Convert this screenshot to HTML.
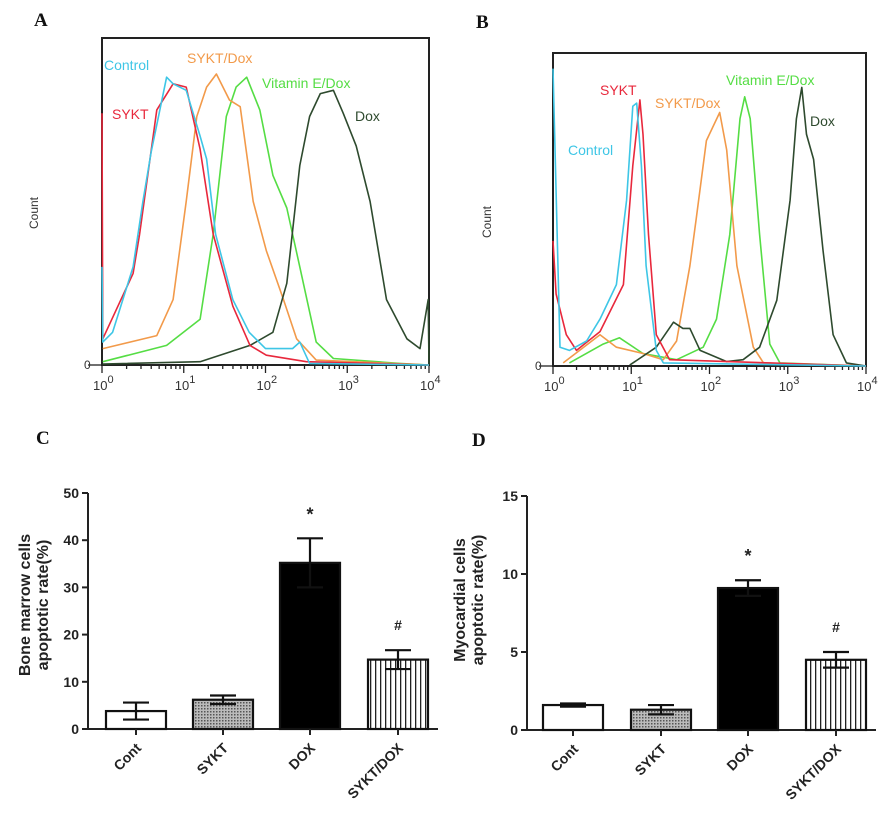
<!DOCTYPE html>
<html><head><meta charset="utf-8"><style>
body{margin:0;background:#fff;}
svg text{font-family:"Liberation Sans",sans-serif;}
</style></head><body>
<svg id="fig" width="886" height="820" viewBox="0 0 886 820" xmlns="http://www.w3.org/2000/svg">
<defs>
<pattern id="dots" width="3" height="3" patternUnits="userSpaceOnUse"><rect width="3" height="3" fill="#bbb"/><rect width="1.5" height="1.5" fill="#555"/></pattern>
<pattern id="vstripes" width="5" height="5" patternUnits="userSpaceOnUse"><rect width="5" height="5" fill="#fff"/><rect width="1.3" height="5" fill="#222"/></pattern>
</defs>
<g id="root"></g>
</svg>
<script>
// ---- Panel A histogram data (log10 intensity, count %) ----
const aControlX=[0.0,0.01,0.13,0.38,0.5,0.6,0.79,0.87,1.03,1.2,1.28,1.39,1.6,1.8,2.0,2.33,2.42,2.54,4.0];
const aControlY=[30,7,10,30,50,65,88,86,84,70,63,40,20,10,5,5,7,0.5,0];
const aSyktX=[0.0,0.01,0.38,0.46,0.67,0.87,1.03,1.2,1.36,1.6,1.81,2.01,2.5,4];
const aSyktY=[77,8,28,40,78,86,85,66,40,18,6,3,1,0];
const aSyktDoxX=[0.01,0.67,0.87,1.03,1.16,1.28,1.4,1.56,1.69,1.85,2.01,2.22,2.38,2.62,4];
const aSyktDoxY=[5,9,20,50,76,85,89,81,79,50,35,20,8,1.5,0];
const aVitEX=[0.01,0.79,1.2,1.36,1.52,1.64,1.77,1.93,2.09,2.26,2.42,2.62,2.83,3.64,4];
const aVitEY=[1,6,14,40,76,85,88,78,58,48,30,7,2,0.5,0];
const aDoxX=[0.01,1.2,1.81,2.09,2.26,2.42,2.54,2.67,2.83,2.95,3.11,3.28,3.48,3.73,3.89,3.99,4.0];
const aDoxY=[0.3,1,6,10,25,61,76,83,84,77,67,50,20,8,5,20,0];
// ---- Panel B histogram data ----
const bControlX=[0.0,0.09,0.21,0.43,0.6,0.81,0.94,1.02,1.07,1.13,1.19,1.32,1.41,4];
const bControlY=[95,6,5,8,15,26,53,83,84,64,32,5,1,0];
const bSyktX=[0.0,0.04,0.17,0.3,0.6,0.9,1.02,1.11,1.15,1.22,1.32,1.49,4];
const bSyktY=[40,23,10,5,11,26,64,85,74,42,10,2,0];
const bSyktDoxX=[0.13,0.34,0.6,0.81,1.15,1.41,1.58,1.75,1.83,1.96,2.13,2.22,2.35,2.56,2.69,4];
const bSyktDoxY=[1,5,10,6,4,2,8,32,47,72,81,69,32,6,1,0];
const bVitEX=[0.21,0.64,0.85,1.15,1.58,1.92,2.09,2.26,2.39,2.45,2.52,2.64,2.77,2.9,4];
const bVitEY=[1,7,9,4,2,6,15,42,79,86,79,42,7,1,0];
const bDoxX=[0.98,1.32,1.54,1.66,1.75,1.88,2.22,2.43,2.64,2.86,3.03,3.11,3.18,3.24,3.33,3.45,3.58,3.75,4];
const bDoxY=[0.3,6,14,12,12,5,1.4,2,6,21,53,79,89,74,66,37,10,1,0];
// ---- Bar chart data ----
const barCats=["Cont","SYKT","DOX","SYKT/DOX"];
const cValues=[3.8,6.2,35.2,14.7];
const cErrors=[1.8,0.9,5.2,2.0];
const cTicks=[0,10,20,30,40,50];
const dValues=[1.6,1.3,9.1,4.5];
const dErrors=[0.1,0.3,0.5,0.5];
const dTicks=[0,5,10,15];
const sigMarks=["","","*","#"];

const NS="http://www.w3.org/2000/svg";
const root=document.getElementById('root');
function el(tag,attrs,parent,text){const e=document.createElementNS(NS,tag);for(const k in attrs)e.setAttribute(k,attrs[k]);if(text!==undefined)e.textContent=text;(parent||root).appendChild(e);return e;}

function histPanel(p){
  const g=el('g',{});
  
  
  const sx=v=>p.x0+(p.x1-p.x0)*v/4;
  const sy=v=>p.yb-(p.yb-p.yt)*v/100;
  const box=el('rect',{x:p.x0,y:p.yt,width:p.x1-p.x0,height:p.yb-p.yt,fill:'none',stroke:'#222','stroke-width':2},g);
  
  
  // ticks
  for(let d=0;d<4;d++){for(let m=1;m<10;m++){const x=sx(d+Math.log10(m));const t=el('line',{x1:x,x2:x,y1:p.yb,y2:p.yb+(m==1?8:4),stroke:'#222','stroke-width':1.3},g);}}
  el('line',{x1:sx(4),x2:sx(4),y1:p.yb,y2:p.yb+8,stroke:'#222','stroke-width':1.3},g);
  el('line',{x1:p.x0-14,x2:p.x0,y1:p.yb,y2:p.yb,stroke:'#222','stroke-width':1.3},g);
  for(let d=0;d<=4;d++){
    const t=el('text',{x:sx(d)-9,y:p.yb+25,'font-size':13,fill:'#333'},g,'10');
    
    
    el('tspan',{dy:-7,'font-size':11},t,String(d));
  }
  const z=el('text',{x:p.x0-18,y:p.yb+4,'font-size':12,fill:'#333'},g,'0');
  
  
  const cl=el('text',{x:0,y:0,'font-size':12,fill:'#333','text-anchor':'middle',transform:`translate(${p.countX},${p.countY}) rotate(-90)`},g,'Count');
  
  
  p.series.forEach(s=>{
    const pts=s.x.map((v,i)=>sx(v).toFixed(1)+','+sy(s.y[i]).toFixed(1)).join(' ');
    const pl=el('polyline',{points:pts,fill:'none',stroke:s.c,'stroke-width':1.6,'stroke-linejoin':'round'},g);
    
    
    const lb=el('text',{x:s.lx,y:s.ly,'font-size':14,fill:s.c},g,s.t);
    
    
  });
  const L=el('text',{x:p.lx,y:p.ly,'font-size':19,'font-weight':'bold','font-family':'Liberation Serif,serif',fill:'#111',style:'font-family:"Liberation Serif",serif'},g,p.letter);
  
  
}
const cyan='#3ec6e6',red='#e8283c',orange='#f29a4a',green='#55dd44',dark='#2e4a2e';
histPanel({name:'panel-a-histogram',letter:'A',lx:34,ly:26,x0:102,x1:429,yt:38,yb:365,countX:38,countY:213,series:[
 {n:'vitamin-e-dox',x:aVitEX,y:aVitEY,c:green,t:'Vitamin E/Dox',lx:262,ly:88},
 {n:'sykt-dox',x:aSyktDoxX,y:aSyktDoxY,c:orange,t:'SYKT/Dox',lx:187,ly:63},
 {n:'dox',x:aDoxX,y:aDoxY,c:dark,t:'Dox',lx:355,ly:121},
 {n:'sykt',x:aSyktX,y:aSyktY,c:red,t:'SYKT',lx:112,ly:119},
 {n:'control',x:aControlX,y:aControlY,c:cyan,t:'Control',lx:104,ly:70}]});
histPanel({name:'panel-b-histogram',letter:'B',lx:476,ly:28,x0:553,x1:866,yt:53,yb:366,countX:491,countY:222,series:[
 {n:'vitamin-e-dox',x:bVitEX,y:bVitEY,c:green,t:'Vitamin E/Dox',lx:726,ly:85},
 {n:'sykt-dox',x:bSyktDoxX,y:bSyktDoxY,c:orange,t:'SYKT/Dox',lx:655,ly:108},
 {n:'dox',x:bDoxX,y:bDoxY,c:dark,t:'Dox',lx:810,ly:126},
 {n:'sykt',x:bSyktX,y:bSyktY,c:red,t:'SYKT',lx:600,ly:95},
 {n:'control',x:bControlX,y:bControlY,c:cyan,t:'Control',lx:568,ly:155}]});

function barPanel(p){
  const g=el('g',{});
  
  
  const max=p.ticks[p.ticks.length-1];
  const sy=v=>p.y0-(p.y0-p.yTop)*v/max;
  const ax=el('path',{d:`M${p.ax},${p.yTop} V${p.y0} H${p.axEnd}`,fill:'none',stroke:'#222','stroke-width':2},g);
  
  
  p.ticks.forEach(t=>{
    el('line',{x1:p.ax-6,x2:p.ax,y1:sy(t),y2:sy(t),stroke:'#222','stroke-width':2},g);
    const tl=el('text',{x:p.ax-9,y:sy(t)+5,'font-size':14,'font-weight':'bold','text-anchor':'end',fill:'#222'},g,String(t));
    
    
  });
  const fills=['#fff','url(#dots)','#000','url(#vstripes)'];
  p.vals.forEach((v,i)=>{
    const bx=p.bx[i], w=p.bw, cx=bx+w/2;
    const r=el('rect',{x:bx,y:sy(v),width:w,height:p.y0-sy(v),fill:fills[i],stroke:'#111','stroke-width':2.2},g);
    
    
    const e=p.errs[i];
    const eb=el('path',{d:`M${cx},${sy(v+e)} V${sy(v-e)} M${cx-13},${sy(v+e)} H${cx+13} M${cx-13},${sy(v-e)} H${cx+13}`,stroke:i==2?'#111':'#111','stroke-width':2.2,fill:'none'},g);
    
    
    el('line',{x1:cx,x2:cx,y1:p.y0,y2:p.y0+6,stroke:'#222','stroke-width':2},g);
    if(sigMarks[i]){const s=el('text',{x:cx,y:sy(v+e)-(sigMarks[i]=='*'?18:20),'font-size':sigMarks[i]=='*'?18:14,'font-weight':'bold','text-anchor':'middle',fill:'#222'},g,sigMarks[i]);}
    const xl=el('text',{x:0,y:0,'font-size':14,'font-weight':'bold','text-anchor':'end',fill:'#222',transform:`translate(${cx+6},${p.y0+20}) rotate(-45)`},g,barCats[i]);
    
    
  });
  const yt=el('text',{x:0,y:0,'font-size':16,'font-weight':'bold','text-anchor':'middle',fill:'#222',transform:`translate(${p.tx},${p.ty}) rotate(-90)`},g);
  
  
  el('tspan',{x:0,dy:0},yt,p.t1);
  el('tspan',{x:0,dy:18},yt,'apoptotic rate(%)');
  const L=el('text',{x:p.lx,y:p.ly,'font-size':19,'font-weight':'bold',fill:'#111',style:'font-family:"Liberation Serif",serif'},g,p.letter);
  
  
}
barPanel({name:'panel-c-bar-chart',letter:'C',lx:36,ly:444,ax:88,axEnd:438,y0:729,yTop:493,ticks:cTicks,vals:cValues,errs:cErrors,bx:[106,193,280,368],bw:60,t1:'Bone marrow cells',tx:30,ty:605});
barPanel({name:'panel-d-bar-chart',letter:'D',lx:472,ly:446,ax:527,axEnd:876,y0:730,yTop:496,ticks:dTicks,vals:dValues,errs:dErrors,bx:[543,631,718,806],bw:60,t1:'Myocardial cells',tx:465,ty:600});
</script>
</body></html>
